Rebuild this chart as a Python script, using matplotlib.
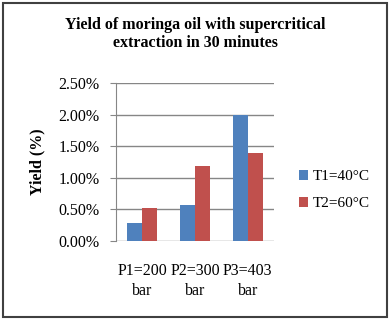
import matplotlib
matplotlib.use("Agg")
import matplotlib.pyplot as plt
import numpy as np
from matplotlib.patches import Rectangle
from matplotlib.ticker import FuncFormatter

plt.rcParams['font.family'] = ['Liberation Serif', 'DejaVu Serif']

categories = ["P1=200\nbar", "P2=300\nbar", "P3=403\nbar"]
t1_values = [0.29, 0.57, 2.00]
t2_values = [0.53, 1.19, 1.40]
series_names = ["T1=40°C", "T2=60°C"]
title = "Yield of moringa oil with supercritical\nextraction in 30 minutes"

blue = "#4F81BD"
red = "#C0504D"
grid_c = "#868686"

fig = plt.figure(figsize=(3.9, 3.2), dpi=100)
ax = fig.add_axes([116/390, 1-241/320, (274-116)/390, (241-83)/320])

x = np.arange(len(categories))
w = 0.285
ax.bar(x - w/2, t1_values, w, color=blue, label=series_names[0], zorder=3)
ax.bar(x + w/2, t2_values, w, color=red, label=series_names[1], zorder=3)

ax.set_xlim(-0.5, 2.5)
ax.set_ylim(0, 2.5)
ax.set_yticks(np.arange(0, 2.51, 0.5))
ax.yaxis.set_major_formatter(FuncFormatter(lambda v, p: f"{v:.2f}%"))
ax.grid(axis='y', color=grid_c, linewidth=1, zorder=0)
ax.set_xticks(x)
ax.set_xticklabels(categories, fontsize=11.5, linespacing=1.35)
ax.tick_params(axis='x', length=0, pad=16)
ax.tick_params(axis='y', length=4, color=grid_c, labelsize=11.5, pad=8)
for s in ['top', 'right', 'bottom']:
    ax.spines[s].set_visible(False)
ax.spines['left'].set_color(grid_c)
ax.set_ylabel("Yield (%)", fontsize=11.5, fontweight='bold', labelpad=9)

fig.text(0.5, 1-34/320, title, ha='center', va='center', fontsize=11.5,
         fontweight='bold', linespacing=1.1)

fig.legend(loc='center left', bbox_to_anchor=(299/390, 1-190/320), frameon=False,
           fontsize=11, handlelength=0.6, handleheight=0.6, handletextpad=0.3,
           labelspacing=0.9, borderaxespad=0, borderpad=0)

fig.patches.append(Rectangle((3/390, 3/320), 384/390, 314/320, transform=fig.transFigure,
                             fill=False, edgecolor='#404040', linewidth=1.5))

fig.savefig("out.png", dpi=100)
